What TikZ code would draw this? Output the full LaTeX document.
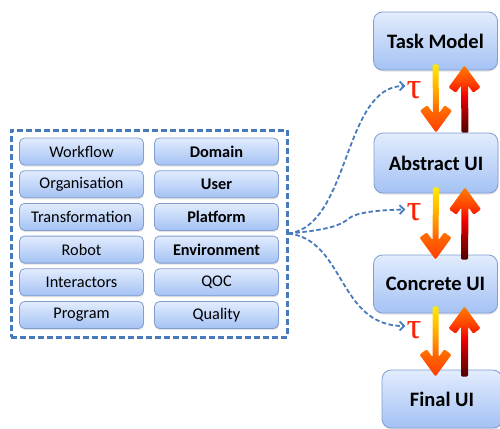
\documentclass[tikz,border=0pt]{standalone}
\usepackage{fontspec}
\setmainfont{Carlito}
\newfontfamily\taufont{Liberation Serif}
\usetikzlibrary{arrows.meta,calc,shadows}
\definecolor{boxtop}{RGB}{226,236,253}
\definecolor{boxbot}{RGB}{164,194,244}
\definecolor{boxline}{RGB}{128,158,208}
\definecolor{dashblue}{RGB}{70,122,186}
\definecolor{taured}{RGB}{250,35,5}
\definecolor{dyellow}{RGB}{255,235,0}
\definecolor{dorange}{RGB}{255,170,0}
\definecolor{dorange2}{RGB}{255,100,0}
\definecolor{dred}{RGB}{255,60,5}
\definecolor{uorange}{RGB}{255,125,0}
\definecolor{uorange2}{RGB}{255,70,0}
\definecolor{ured}{RGB}{240,0,0}
\definecolor{ubrown}{RGB}{150,0,0}
\definecolor{udark}{RGB}{80,0,0}
\pgfdeclareverticalshading{downshade}{100bp}{color(0bp)=(dred); color(25bp)=(dred);
  color(40bp)=(dorange2); color(56bp)=(dorange); color(75bp)=(dyellow); color(100bp)=(dyellow)}
\pgfdeclareverticalshading{upshade}{100bp}{color(0bp)=(udark); color(25bp)=(udark);
  color(38bp)=(ubrown); color(52bp)=(ured); color(63bp)=(uorange2); color(75bp)=(uorange);
  color(100bp)=(uorange)}
\newcommand\DownArr[2]{%
  \shade[shading=downshade, rounded corners=1.2pt]
  let \p1=(#1), \p2=(#2) in
  (\x2,\y2) -- (\x2+16pt,\y2+22pt) -- (\x2+8.7pt,\y2+27.3pt) -- (\x2+3pt,\y2+19.4pt)
  -- (\x1+3pt,\y1) -- (\x1-3pt,\y1) -- (\x2-3pt,\y2+19.4pt) -- (\x2-8.7pt,\y2+27.3pt)
  -- (\x2-16pt,\y2+22pt) -- cycle;}
\newcommand\UpArr[2]{%
  \shade[shading=upshade, rounded corners=1.2pt]
  let \p1=(#1), \p2=(#2) in
  (\x2,\y2) -- (\x2+16pt,\y2-22pt) -- (\x2+8.7pt,\y2-27.3pt) -- (\x2+3.5pt,\y2-20.1pt)
  -- (\x1+3.5pt,\y1) -- (\x1-3.5pt,\y1) -- (\x2-3.5pt,\y2-20.1pt) -- (\x2-8.7pt,\y2-27.3pt)
  -- (\x2-16pt,\y2-22pt) -- cycle;}
\tikzset{
  basebox/.style={draw=boxline, line width=0.8pt, top color=boxtop, bottom color=boxbot,
    inner sep=0pt, text=black,
    drop shadow={opacity=0.22, shadow xshift=0.6pt, shadow yshift=-1.6pt}},
  smallbox/.style={basebox, rounded corners=5pt, minimum width=124pt, minimum height=27pt,
    font=\fontsize{16.3}{18}\selectfont},
  bigbox/.style={basebox, rounded corners=9pt, minimum width=124pt, minimum height=58pt,
    font=\fontsize{20.5}{24}\selectfont\bfseries},
  taulabel/.style={text=taured, inner sep=0pt, font=\taufont\fontsize{37}{40}\selectfont},
  dashlink/.style={draw=dashblue, line width=1.8pt, dash pattern=on 4.5pt off 2.5pt,
    -{Straight Barb[length=4.5pt,width=9pt,line width=1.8pt]}},
  groupbox/.style={draw=dashblue, line width=3pt, dash pattern=on 6pt off 3pt,
    minimum width=276pt, minimum height=207pt, inner sep=0pt}
}
\begin{document}
\begin{tikzpicture}[x=1pt,y=-1pt]
\useasboundingbox (0,0) rectangle (500,428);
\clip (0,0) rectangle (500,428);
% left group
\node[groupbox] (db) at (149,233.5) {};
\node[smallbox] (a1) at (81.5,151.5) {Workflow};
\node[smallbox] (a2) at (81.5,184.2) {Organisation};
\node[smallbox] (a3) at (81.5,216.9) {Transformation};
\node[smallbox] (a4) at (81.5,249.6) {Robot};
\node[smallbox] (a5) at (81.5,282.3) {Interactors};
\node[smallbox] (a6) at (81.5,315) {Program};
\node[smallbox] (b1) at (216.5,151.5) {\bfseries Domain};
\node[smallbox] (b2) at (216.5,184.2) {\bfseries User};
\node[smallbox] (b3) at (216.5,216.9) {\bfseries Platform};
\node[smallbox] (b4) at (216.5,249.6) {\bfseries Environment};
\node[smallbox] (b5) at (216.5,282.3) {QOC};
\node[smallbox] (b6) at (216.5,315) {Quality};
% right column
\node[bigbox] (tm) at (435.5,41) {Task Model};
\node[bigbox, minimum height=60pt] (am) at (436,163) {Abstract UI};
\node[bigbox] (cu) at (435.5,284) {Concrete UI};
\node[bigbox, minimum width=120pt] (fu) at (442,399) {Final UI};
% arrow end points
\coordinate (d1a) at ($(tm.south)+(0,-6)$);
\coordinate (d1b) at (am.north);
\coordinate (u1a) at ($(am.north)+(29,0)$);
\coordinate (u1b) at ($(tm.south)+(29,-5)$);
\coordinate (d2a) at ($(am.south)+(0,-6)$);
\coordinate (d2b) at ($(cu.north)+(0,5)$);
\coordinate (u2a) at ($(cu.north)+(29,5)$);
\coordinate (u2b) at ($(am.south)+(29,-6)$);
\coordinate (d3a) at ($(cu.south)+(0,-7)$);
\coordinate (d3b) at ($(cu.south |- fu.north)+(0,7)$);
\coordinate (u3a) at ($(cu.south |- fu.north)+(29,7)$);
\coordinate (u3b) at ($(cu.south)+(29,-7)$);
\DownArr{d1a}{d1b}
\UpArr{u1a}{u1b}
\DownArr{d2a}{d2b}
\UpArr{u2a}{u2b}
\DownArr{d3a}{d3b}
\UpArr{u3a}{u3b}
% tau labels
\node[taulabel] (t1) at (414,90) {τ};
\node[taulabel] (t2) at (414,212.5) {τ};
\node[taulabel] (t3) at (414,330) {τ};
% dashed links
\draw[dashlink] (db.east) .. controls (350,226) and (343,86) .. ($(t1.west)+(-1,-4)$);
\draw[dashlink] (db.east) .. controls (315,231) and (338,228) .. (348,219)
  .. controls (356,212) and (380,210) .. ($(t2.west)+(-1,-3)$);
\draw[dashlink] (db.east) .. controls (345,240) and (338,326) .. ($(t3.west)+(-1,-4)$);
\end{tikzpicture}
\end{document}
